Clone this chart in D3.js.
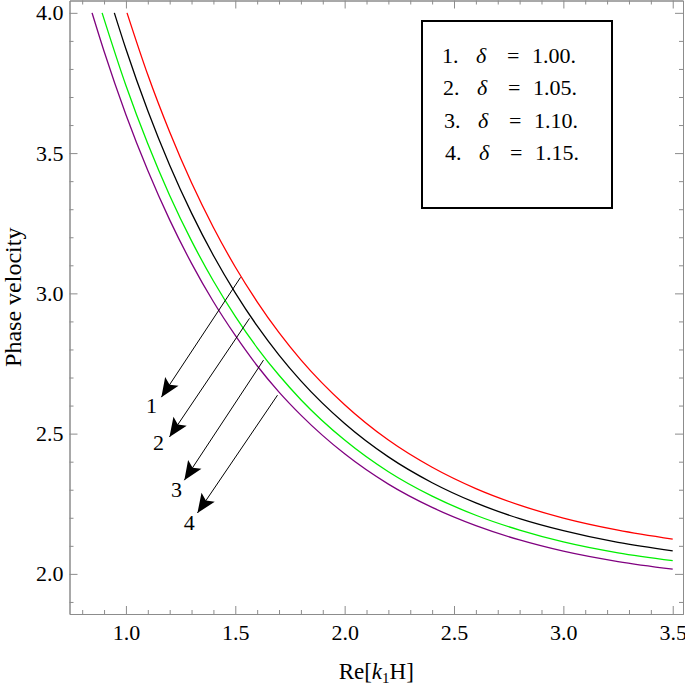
<!DOCTYPE html>
<html>
<head>
<meta charset="utf-8">
<script src="https://cdn.jsdelivr.net/npm/d3@7"></script>
<style>
  body { margin: 0; background: #fff; }
  text { font-family: "Liberation Serif", "Times New Roman", serif; }
</style>
</head>
<body>
<div id="chart"></div>
<script>
// curves, one array of Re[k1H] and one of phase velocity per delta
var kRed = [1.005, 1.1, 1.2, 1.3, 1.4, 1.5, 1.6, 1.7, 1.8, 2.0, 2.2, 2.4, 2.6, 2.8, 3.0, 3.25, 3.5];
var cRed = [4.000, 3.779, 3.575, 3.394, 3.235, 3.094, 2.970, 2.860, 2.763, 2.603, 2.477, 2.380, 2.304, 2.245, 2.199, 2.156, 2.124];

var kBlack = [0.947, 1.0, 1.1, 1.2, 1.3, 1.4, 1.5, 1.6, 1.7, 1.8, 2.0, 2.2, 2.4, 2.6, 2.8, 3.0, 3.25, 3.5];
var cBlack = [4.000, 3.871, 3.651, 3.457, 3.286, 3.135, 3.002, 2.884, 2.780, 2.688, 2.536, 2.417, 2.325, 2.253, 2.197, 2.154, 2.112, 2.082];

var kGreen = [0.891, 1.0, 1.1, 1.2, 1.3, 1.4, 1.5, 1.6, 1.7, 1.8, 2.0, 2.2, 2.4, 2.6, 2.8, 3.0, 3.25, 3.5];
var cGreen = [4.000, 3.741, 3.533, 3.349, 3.187, 3.044, 2.918, 2.806, 2.708, 2.621, 2.477, 2.364, 2.277, 2.209, 2.156, 2.114, 2.075, 2.047];

var kPurple = [0.845, 0.9, 1.0, 1.1, 1.2, 1.3, 1.4, 1.5, 1.6, 1.7, 1.8, 2.0, 2.2, 2.4, 2.6, 2.8, 3.0, 3.25, 3.5];
var cPurple = [4.000, 3.863, 3.637, 3.438, 3.262, 3.107, 2.970, 2.850, 2.742, 2.648, 2.566, 2.428, 2.320, 2.237, 2.172, 2.121, 2.081, 2.044, 2.017];

var legendNums = ["1.", "2.", "3.", "4."];
var legendVals = ["1.00.", "1.05.", "1.10.", "1.15."];

// arrows (data coords): start near a curve, tip at the label
var arrowK0 = [1.524, 1.565, 1.629, 1.693];
var arrowC0 = [3.057, 2.911, 2.762, 2.637];
var arrowK1 = [1.162, 1.199, 1.267, 1.327];
var arrowC1 = [2.630, 2.488, 2.334, 2.217];
var labelK = [1.117, 1.149, 1.231, 1.290];
var labelC = [2.601, 2.469, 2.302, 2.185];

var xMajor = [1.0, 1.5, 2.0, 2.5, 3.0, 3.5];
var yMajor = [2.0, 2.5, 3.0, 3.5, 4.0];

var series = [
  { k: kRed, c: cRed, color: "#ff0000" },
  { k: kBlack, c: cBlack, color: "#000000" },
  { k: kGreen, c: cGreen, color: "#00ee00" },
  { k: kPurple, c: cPurple, color: "#800080" }
];

var W = 685, H = 685;
var pLeft = 69.5, pRight = 683, pTop = 0.5, pBottom = 614;
var frameColor = "#8c8c8c";
var fs = 22;

var svg = d3.select("#chart").append("svg")
  .attr("width", W).attr("height", H);

var x = d3.scaleLinear().domain([0.742, 3.547]).range([pLeft, pRight]);
var y = d3.scaleLinear().domain([1.857, 4.044]).range([pBottom, pTop]);

var xMinor = d3.range(8, 36).map(function (d) { return d / 10; })
  .filter(function (d) { return xMajor.indexOf(d) == -1; });
var yMinor = d3.range(19, 41).map(function (d) { return d / 10; })
  .filter(function (d) { return yMajor.indexOf(d) == -1; });

function styleAxis(g) {
  g.selectAll("path").attr("stroke", frameColor);
  g.selectAll("line").attr("stroke", frameColor);
  g.selectAll("text")
    .attr("font-family", "Liberation Serif, Times New Roman, serif")
    .attr("font-size", fs)
    .attr("fill", "#000");
}

// bottom
svg.append("g").attr("transform", "translate(0," + pBottom + ")")
  .call(d3.axisBottom(x).tickValues(xMajor).tickSize(-8).tickSizeOuter(0)
    .tickPadding(10).tickFormat(d3.format(".1f")))
  .call(styleAxis);
svg.append("g").attr("transform", "translate(0," + pBottom + ")")
  .call(d3.axisBottom(x).tickValues(xMinor).tickSize(-4).tickSizeOuter(0).tickFormat(""))
  .call(styleAxis);
// top
svg.append("g").attr("transform", "translate(0," + pTop + ")")
  .call(d3.axisTop(x).tickValues(xMajor).tickSize(-8).tickSizeOuter(0).tickFormat(""))
  .call(styleAxis);
svg.append("g").attr("transform", "translate(0," + pTop + ")")
  .call(d3.axisTop(x).tickValues(xMinor).tickSize(-4).tickSizeOuter(0).tickFormat(""))
  .call(styleAxis);
// left
svg.append("g").attr("transform", "translate(" + pLeft + ",0)")
  .call(d3.axisLeft(y).tickValues(yMajor).tickSize(-8).tickSizeOuter(0)
    .tickPadding(6).tickFormat(d3.format(".1f")))
  .call(styleAxis);
svg.append("g").attr("transform", "translate(" + pLeft + ",0)")
  .call(d3.axisLeft(y).tickValues(yMinor).tickSize(-4).tickSizeOuter(0).tickFormat(""))
  .call(styleAxis);
// right
svg.append("g").attr("transform", "translate(" + pRight + ",0)")
  .call(d3.axisRight(y).tickValues(yMajor).tickSize(-8).tickSizeOuter(0).tickFormat(""))
  .call(styleAxis);
svg.append("g").attr("transform", "translate(" + pRight + ",0)")
  .call(d3.axisRight(y).tickValues(yMinor).tickSize(-4).tickSizeOuter(0).tickFormat(""))
  .call(styleAxis);

// curves
var line = d3.line()
  .x(function (d) { return x(d[0]); })
  .y(function (d) { return y(d[1]); })
  .curve(d3.curveMonotoneX);

svg.selectAll(".curve")
  .data(series)
  .enter()
  .append("path")
  .attr("class", "curve")
  .attr("fill", "none")
  .attr("stroke", function (d) { return d.color; })
  .attr("stroke-width", 1.3)
  .attr("d", function (d) {
    return line(d.k.map(function (k, i) { return [k, d.c[i]]; }));
  });

// arrows
svg.append("defs").append("marker")
  .attr("id", "head")
  .attr("markerUnits", "userSpaceOnUse")
  .attr("viewBox", "-22 -10 24 20")
  .attr("markerWidth", 24).attr("markerHeight", 20)
  .attr("refX", 0).attr("refY", 0)
  .attr("orient", "auto")
  .append("path")
  .attr("d", "M0,0 L-19,-8 L-15,0 L-19,8 Z")
  .attr("fill", "#000");

svg.selectAll(".arrow")
  .data(arrowK0)
  .enter()
  .append("line")
  .attr("class", "arrow")
  .attr("x1", function (d, i) { return x(arrowK0[i]); })
  .attr("y1", function (d, i) { return y(arrowC0[i]); })
  .attr("x2", function (d, i) { return x(arrowK1[i]); })
  .attr("y2", function (d, i) { return y(arrowC1[i]); })
  .attr("stroke", "#000")
  .attr("stroke-width", 1)
  .attr("marker-end", "url(#head)");

svg.selectAll(".alabel")
  .data(labelK)
  .enter()
  .append("text")
  .attr("class", "alabel")
  .attr("x", function (d, i) { return x(labelK[i]); })
  .attr("y", function (d, i) { return y(labelC[i]); })
  .attr("dy", "0.35em")
  .attr("text-anchor", "middle")
  .attr("font-size", fs)
  .text(function (d, i) { return String(i + 1); });

// legend box
svg.append("rect")
  .attr("x", 422).attr("y", 21)
  .attr("width", 190).attr("height", 187)
  .attr("fill", "none")
  .attr("stroke", "#000")
  .attr("stroke-width", 2);

var leg = svg.append("g");
legendNums.forEach(function (n, i) {
  var by = 63 + i * 32.3;
  var dx = i * 1;
  leg.append("text").attr("x", 442 + dx).attr("y", by).attr("font-size", fs).text(n);
  leg.append("text").attr("x", 476 + dx).attr("y", by).attr("font-size", fs)
    .attr("font-style", "italic").text("δ");
  leg.append("text").attr("x", 507 + dx).attr("y", by).attr("font-size", fs).text("=");
  leg.append("text").attr("x", 532 + dx).attr("y", by).attr("font-size", fs).text(legendVals[i]);
});

// axis titles
svg.append("text")
  .attr("transform", "translate(21," + ((pTop + pBottom) / 2 - 10) + ") rotate(-90)")
  .attr("text-anchor", "middle")
  .attr("font-size", 24)
  .text("Phase velocity");

var xt = svg.append("text")
  .attr("x", (pLeft + pRight) / 2)
  .attr("y", 679)
  .attr("text-anchor", "middle")
  .attr("font-size", 23);
xt.append("tspan").text("Re[");
xt.append("tspan").attr("font-style", "italic").text("k");
xt.append("tspan").attr("font-size", 15).attr("dy", 4).text("1");
xt.append("tspan").attr("dy", -4).text("H]");
</script>
</body>
</html>
